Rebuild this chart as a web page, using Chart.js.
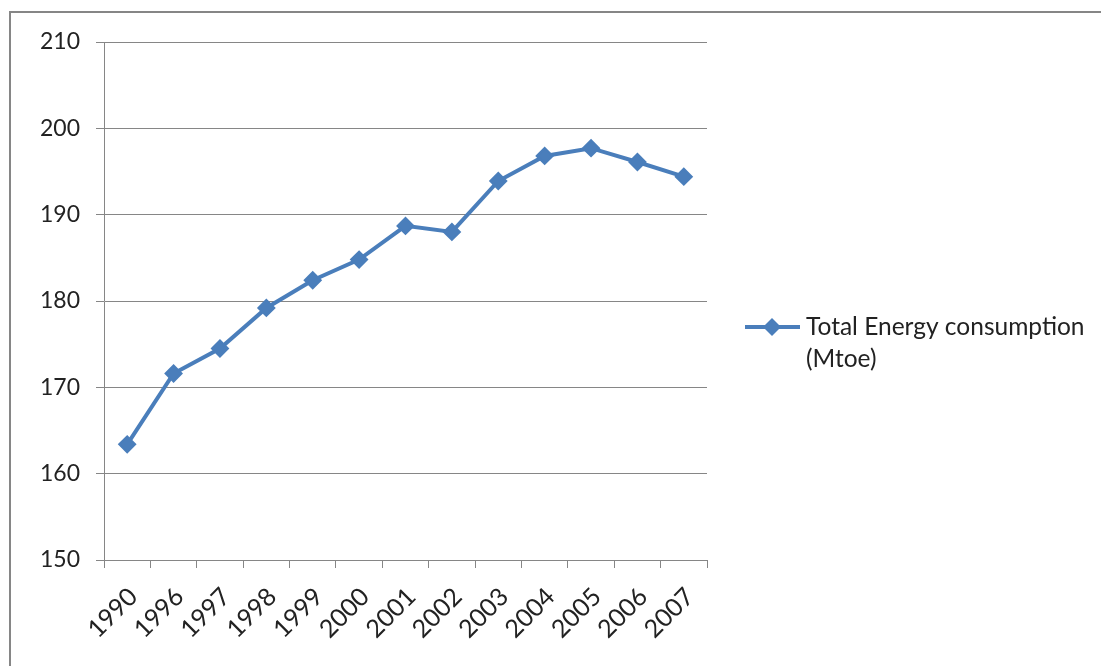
<!DOCTYPE html>
<html>
<head>
<meta charset="utf-8">
<script src="https://cdn.jsdelivr.net/npm/chart.js@4/dist/chart.umd.min.js"></script>
<style>
  html, body { margin: 0; padding: 0; background: #fff; overflow: hidden; }
  #wrap { width: 1101px; height: 666px; position: relative; }
</style>
</head>
<body>
<div id="wrap"><canvas id="myChart"></canvas></div>
<script>
// data
const years = ["1990", "1996", "1997", "1998", "1999", "2000", "2001", "2002", "2003", "2004", "2005", "2006", "2007"];
const energy = [163.4, 171.6, 174.5, 179.2, 182.4, 184.8, 188.7, 188.0, 193.9, 196.8, 197.7, 196.1, 194.4];
const seriesLabel = ["Total Energy consumption", "(Mtoe)"];

const blue = "#4A7EBB";
const gray = "#868686";
const font = "Lato";

// frame round the chart + hand-drawn legend on the right
const framePlugin = {
  id: "frame",
  beforeDraw(chart) {
    const ctx = chart.ctx;
    ctx.save();
    ctx.fillStyle = "#fff";
    ctx.fillRect(0, 0, chart.width, chart.height);
    ctx.strokeStyle = gray;
    ctx.lineWidth = 2;
    ctx.beginPath();
    ctx.moveTo(10, chart.height + 5);
    ctx.lineTo(10, 12);
    ctx.lineTo(chart.width + 5, 12);
    ctx.stroke();
    ctx.restore();
  },
  afterDraw(chart) {
    const ctx = chart.ctx;
    const area = chart.chartArea;
    const x0 = area.right + 38;
    const y0 = 327;
    ctx.save();
    ctx.strokeStyle = blue;
    ctx.lineWidth = 4;
    ctx.beginPath();
    ctx.moveTo(x0, y0);
    ctx.lineTo(x0 + 55, y0);
    ctx.stroke();
    ctx.fillStyle = blue;
    ctx.beginPath();
    ctx.moveTo(x0 + 27, y0 - 9);
    ctx.lineTo(x0 + 36, y0);
    ctx.lineTo(x0 + 27, y0 + 9);
    ctx.lineTo(x0 + 18, y0);
    ctx.closePath();
    ctx.fill();
    ctx.fillStyle = "#222";
    ctx.font = "24.5px " + font;
    ctx.textBaseline = "middle";
    ctx.textAlign = "left";
    seriesLabel.forEach((t, i) => ctx.fillText(t, x0 + 61, y0 + i * 32));
    ctx.restore();
  }
};

const data = {
  labels: years,
  datasets: [
    {
      label: seriesLabel.join(" "),
      data: energy,
      borderColor: blue,
      backgroundColor: blue,
      borderWidth: 4,
      pointStyle: "rectRot",
      pointRadius: 8,
      pointBorderWidth: 2,
      pointBorderColor: blue,
      pointBackgroundColor: blue,
      tension: 0,
    },
  ],
};

const config = {
  type: "line",
  data: data,
  plugins: [framePlugin],
  options: {
    responsive: false,
    animation: false,
    layout: { padding: { left: 0, top: 42, right: 394, bottom: 0 } },
    plugins: {
      legend: { display: false },
      tooltip: { enabled: false },
    },
    scales: {
      x: {
        offset: true,
        grid: {
          offset: true,
          drawOnChartArea: false,
          drawTicks: true,
          tickLength: 8,
          color: gray,
        },
        border: { color: gray, width: 1 },
        ticks: {
          color: "#222",
          font: { family: font, size: 25 },
          minRotation: 45,
          maxRotation: 45,
          padding: 14,
          labelOffset: 6,
          autoSkip: false,
        },
        afterFit(scale) { scale.height = 106; },
      },
      y: {
        min: 150,
        max: 210,
        ticks: {
          stepSize: 10,
          color: "#222",
          font: { family: font, size: 23 },
          padding: 16,
        },
        grid: { color: gray, tickLength: 8 },
        border: { color: gray, width: 1 },
        afterFit(scale) { scale.width = 104; },
      },
    },
  },
};

const canvas = document.getElementById("myChart");
canvas.width = 1101;
canvas.height = 666;
const chart = new Chart(canvas.getContext("2d"), config);
</script>
</body>
</html>
